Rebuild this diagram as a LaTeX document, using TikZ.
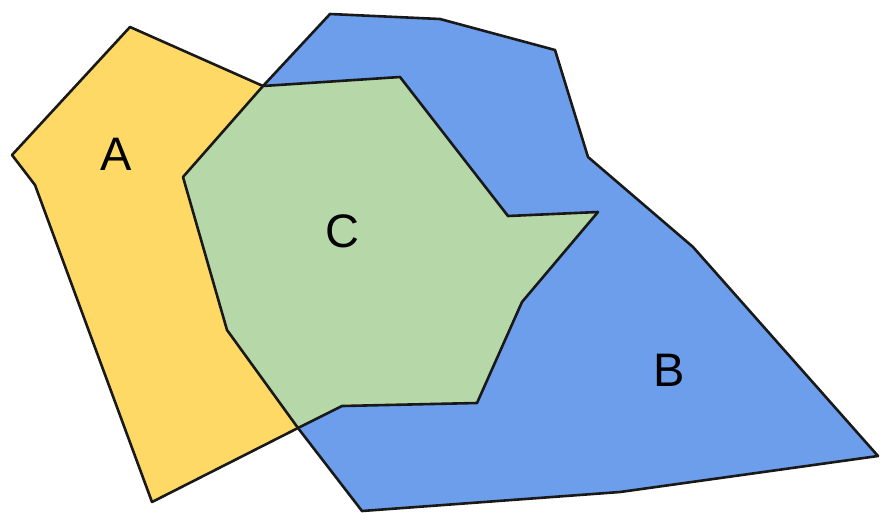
\documentclass[tikz,border=0pt]{standalone}
\usepackage{fontspec}
\setmainfont{Liberation Sans}
\definecolor{ayellow}{HTML}{FFD966}
\definecolor{bblue}{HTML}{6D9EEB}
\definecolor{cgreen}{HTML}{B6D7A8}
\begin{document}
\begin{tikzpicture}[x=1pt,y=-1pt,
  region/.style={draw=black!90, line width=2.6pt, line join=round},
  lbl/.style={font=\fontsize{47}{47}\selectfont, inner sep=0pt}]
\useasboundingbox (0,0) rectangle (880,512);
% A
\filldraw[region, fill=ayellow] (12,155) -- (130,27) -- (263,86) -- (298,428) -- (152,502) -- (35,185) -- cycle;
% B
\filldraw[region, fill=bblue] (330,14) -- (440,19) -- (555,50) -- (588,157) -- (693,247) -- (878,456) -- (620,492) -- (362,511) -- (298,428) -- (263,86) -- cycle;
% C
\filldraw[region, fill=cgreen] (263,86) -- (400,77) -- (508,216) -- (598,212) -- (522,302) -- (477,403) -- (342,406) -- (298,428) -- (227,330) -- (183,177) -- cycle;
\node[lbl] (la) at (116.5,154) {A};
\node[lbl] (lc) at (342,231.5) {C};
\node[lbl] (lb) at (669,370) {B};
\end{tikzpicture}
\end{document}
